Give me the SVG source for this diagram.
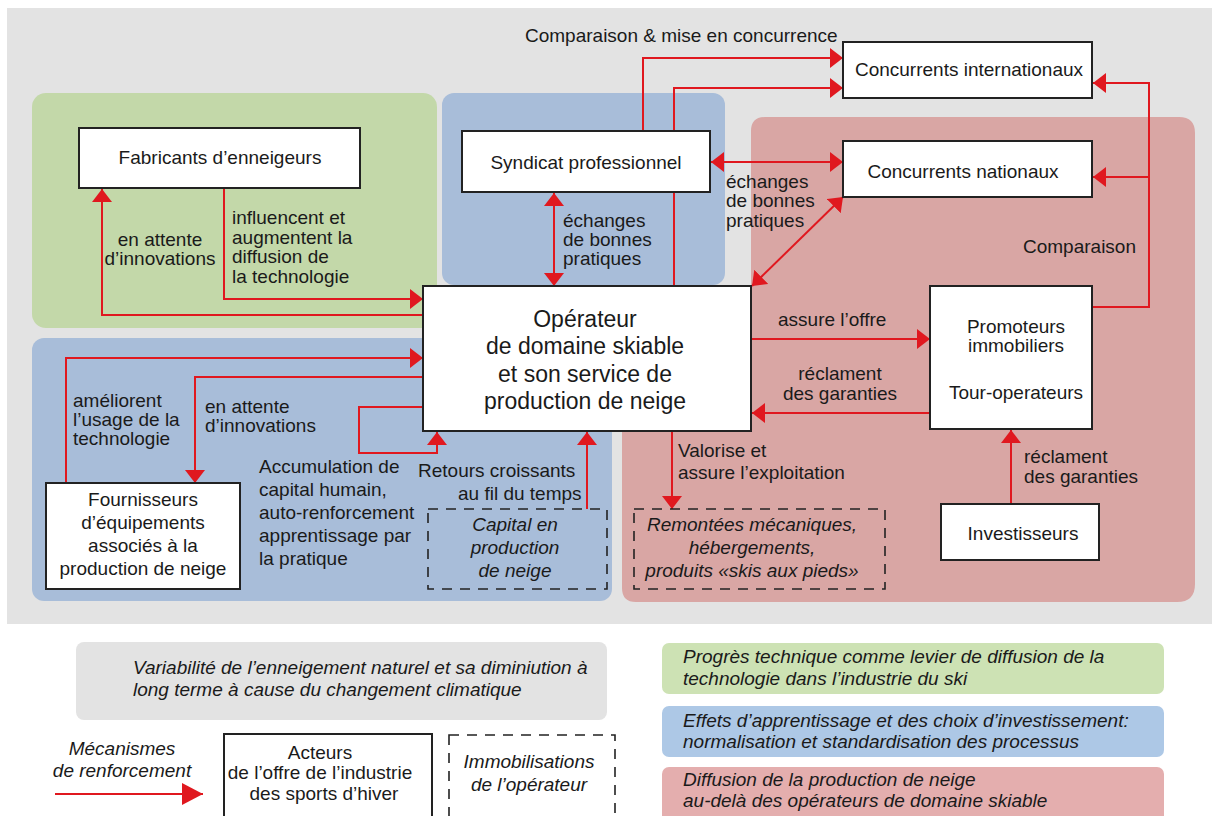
<svg xmlns="http://www.w3.org/2000/svg" width="1212" height="816" viewBox="0 0 1212 816">
<style>
text{font-family:"Liberation Sans",Arial,Helvetica,sans-serif;font-size:19px;fill:#1a1a1a}
.c{text-anchor:middle}
.op{font-size:23px}
.it{font-style:italic}
.box{fill:#fff;stroke:#222;stroke-width:2}
.dbox{fill:none;stroke:#222;stroke-width:1.6;stroke-dasharray:10 8}
.ln{fill:none;stroke:#e0181f;stroke-width:2}
.a{marker-end:url(#ah)}
.aa{marker-end:url(#ah);marker-start:url(#ah)}
</style>
<defs>
<marker id="ah" markerUnits="userSpaceOnUse" viewBox="0 0 13 20" refX="13" refY="10" markerWidth="13" markerHeight="20" orient="auto-start-reverse"><path d="M0,0L13,10L0,20Z" fill="#e0181f"/></marker>
<marker id="ahL" markerUnits="userSpaceOnUse" viewBox="0 0 21 22" refX="21" refY="11" markerWidth="21" markerHeight="22" orient="auto"><path d="M0,0L21,11L0,22Z" fill="#e0181f"/></marker>
</defs>
<rect x="0" y="0" width="1212" height="816" fill="#fff"/>
<rect x="7" y="8" width="1205" height="616" fill="#e3e3e3"/>
<g id="regions">
<rect x="32" y="93" width="405" height="235" rx="14" fill="#c3d8a9"/>
<rect x="442" y="93" width="283" height="192" rx="12" fill="#a8bdd9"/>
<rect x="32" y="338" width="580" height="263" rx="12" fill="#a8bdd9"/>
<path d="M765,117H1179Q1195,117 1195,133V584Q1195,602 1177,602H636Q622,602 622,588V300H751V131Q751,117 765,117Z" fill="#d9a6a4"/>
</g>
<g id="connectors">
<path class="ln a" d="M423,315H102V189"/>
<path class="ln a" d="M224,188V299H423"/>
<path class="ln aa" d="M554,193V286"/>
<path class="ln a" d="M643,131V58H843"/>
<path class="ln a" d="M674,286V88H843"/>
<path class="ln aa" d="M711,162H843"/>
<path class="ln aa" d="M752,286L843,197"/>
<path class="ln a" d="M1092,307H1149V83H1093"/>
<path class="ln a" d="M1149,177H1093"/>
<path class="ln a" d="M751,339H930"/>
<path class="ln a" d="M930,413H752"/>
<path class="ln a" d="M1011,504V430"/>
<path class="ln a" d="M672,431V509"/>
<path class="ln a" d="M66,483V358H423"/>
<path class="ln a" d="M423,377H195V483"/>
<path class="ln a" d="M423,407H359V453H437V432"/>
<path class="ln a" d="M587,509V432"/>
</g>
<g id="edge-labels">
<text x="525" y="42">Comparaison &amp; mise en concurrence</text>
<text x="1023" y="253">Comparaison</text>
<text x="160" y="246" class="c">en attente</text>
<text x="160" y="265" class="c">d’innovations</text>
<text x="232" y="224">influencent et</text>
<text x="232" y="243.5">augmentent la</text>
<text x="232" y="263">diffusion de</text>
<text x="232" y="282.5">la technologie</text>
<text x="563" y="227">échanges</text>
<text x="563" y="246">de bonnes</text>
<text x="563" y="265">pratiques</text>
<text x="726" y="188">échanges</text>
<text x="726" y="207">de bonnes</text>
<text x="726" y="227">pratiques</text>
<text x="778" y="326">assure l’offre</text>
<text x="840" y="379.5" class="c">réclament</text>
<text x="840" y="399.5" class="c">des garanties</text>
<text x="1024" y="463">réclament</text>
<text x="1024" y="483">des garanties</text>
<text x="678" y="457">Valorise et</text>
<text x="678" y="479">assure l’exploitation</text>
<text x="73" y="407">améliorent</text>
<text x="73" y="426">l’usage de la</text>
<text x="73" y="445">technologie</text>
<text x="205" y="413">en attente</text>
<text x="205" y="432">d’innovations</text>
<text x="259" y="473">Accumulation de</text>
<text x="259" y="496">capital humain,</text>
<text x="259" y="519">auto-renforcement</text>
<text x="259" y="542">apprentissage par</text>
<text x="259" y="565">la pratique</text>
<text x="418" y="477">Retours croissants</text>
<text x="458" y="500">au fil du temps</text>
</g>
<g id="fabricants">
<rect class="box" x="79" y="128" width="281" height="60"/>
<text x="220" y="164" class="c">Fabricants d’enneigeurs</text>
</g>
<g id="syndicat">
<rect class="box" x="462" y="131" width="248" height="61"/>
<text x="586" y="169" class="c">Syndicat professionnel</text>
</g>
<g id="concurrents-internationaux">
<rect class="box" x="843" y="42" width="249" height="56"/>
<text x="969" y="76" class="c">Concurrents internationaux</text>
</g>
<g id="concurrents-nationaux">
<rect class="box" x="843" y="141" width="249" height="56"/>
<text x="963" y="178" class="c">Concurrents nationaux</text>
</g>
<g id="operateur">
<rect class="box" x="423" y="286" width="328" height="145"/>
<text x="585" y="327" class="c op">Opérateur</text>
<text x="585" y="354" class="c op">de domaine skiable</text>
<text x="585" y="382" class="c op">et son service de</text>
<text x="585" y="409" class="c op">production de neige</text>
</g>
<g id="promoteurs">
<rect class="box" x="930" y="286" width="162" height="143"/>
<text x="1016" y="333" class="c">Promoteurs</text>
<text x="1016" y="352" class="c">immobiliers</text>
<text x="1016" y="399" class="c">Tour-operateurs</text>
</g>
<g id="investisseurs">
<rect class="box" x="941" y="504" width="158" height="56"/>
<text x="1023" y="540" class="c">Investisseurs</text>
</g>
<g id="fournisseurs">
<rect class="box" x="46" y="483" width="194" height="106"/>
<text x="143" y="506" class="c">Fournisseurs</text>
<text x="143" y="529" class="c">d’équipements</text>
<text x="143" y="552" class="c">associés à la</text>
<text x="143" y="575" class="c">production de neige</text>
</g>
<g id="capital">
<rect class="dbox" x="428" y="509" width="179" height="80"/>
<text x="515" y="531" class="c it">Capital en</text>
<text x="515" y="554" class="c it">production</text>
<text x="515" y="577" class="c it">de neige</text>
</g>
<g id="remontees">
<rect class="dbox" x="634" y="509" width="251" height="80"/>
<text x="752" y="531" class="c it">Remontées mécaniques,</text>
<text x="752" y="554" class="c it">hébergements,</text>
<text x="752" y="577" class="c it">produits «skis aux pieds»</text>
</g>
<g id="legend">
<rect x="76" y="642" width="531" height="78" rx="8" fill="#e3e3e3"/>
<text x="133" y="674" class="it">Variabilité de l’enneigement naturel et sa diminiution à</text>
<text x="133" y="696" class="it">long terme à cause du changement climatique</text>
<rect x="662" y="643" width="502" height="51" rx="7" fill="#cde2b4"/>
<text x="683" y="663" class="it">Progrès technique comme levier de diffusion de la</text>
<text x="683" y="685" class="it">technologie dans l’industrie du ski</text>
<rect x="662" y="706" width="502" height="51" rx="7" fill="#adc8e6"/>
<text x="683" y="727" class="it">Effets d’apprentissage et des choix d’investissement:</text>
<text x="683" y="748" class="it">normalisation et standardisation des processus</text>
<rect x="662" y="767" width="502" height="60" rx="7" fill="#e4aeae"/>
<text x="683" y="786" class="it">Diffusion de la production de neige</text>
<text x="683" y="807" class="it">au-delà des opérateurs de domaine skiable</text>
<text x="122" y="755" class="c it">Mécanismes</text>
<text x="122" y="777" class="c it">de renforcement</text>
<path d="M55,794H203" fill="none" stroke="#e0181f" stroke-width="2" marker-end="url(#ahL)"/>
<rect class="box" x="224" y="734" width="208" height="100"/>
<text x="320" y="759" class="c">Acteurs</text>
<text x="320" y="779" class="c">de l’offre de l’industrie</text>
<text x="324" y="800" class="c">des sports d’hiver</text>
<rect class="dbox" x="449" y="735" width="166" height="100"/>
<text x="529" y="768" class="c it">Immobilisations</text>
<text x="529" y="791" class="c it">de l’opérateur</text>
</g>
</svg>
